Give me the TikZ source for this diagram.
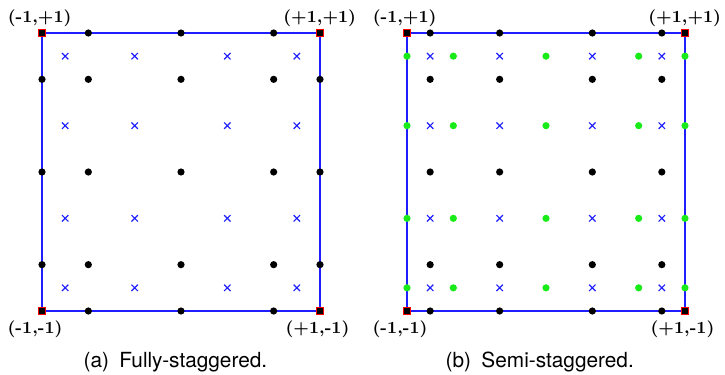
\documentclass[tikz,border=0pt]{standalone}
\usepackage{fontspec}
\newfontfamily\capfont{TeX Gyre Heros}
\usepackage{xcolor}
\definecolor{edgeblue}{RGB}{30,30,255}
\definecolor{fluxgreen}{RGB}{25,235,25}

\tikzset{
  boxline/.style={color=edgeblue, line width=0.8pt},
  soln/.style={fill=black},
  flux/.style={fill=fluxgreen},
  xmark/.style={draw=edgeblue, line width=0.55pt},
  corner/.style={draw=red, fill=black, line width=0.6pt, minimum size=3.4pt, inner sep=0pt},
  vlabel/.style={font=\fontsize{8.5}{10}\selectfont\bfseries, inner sep=0pt},
  caption/.style={font=\capfont\fontsize{10.4}{12}\selectfont, inner sep=0pt, anchor=base}
}
\newcommand{\crossat}[2]{\draw[xmark] (#1,#2) +(-1.6pt,-1.6pt) -- +(1.6pt,1.6pt) +(-1.6pt,1.6pt) -- +(1.6pt,-1.6pt);}

\begin{document}
\begin{tikzpicture}[x=69.5pt, y=69.5pt]
  \useasboundingbox (-1.30216,-1.4604) rectangle (3.91367,1.2374);

  % (a) fully staggered
  \coordinate (a-sw) at (-1,-1);
  \coordinate (a-se) at (1,-1);
  \coordinate (a-ne) at (1,1);
  \coordinate (a-nw) at (-1,1);
  \draw[boxline] (a-sw) -- (a-se) -- (a-ne) -- (a-nw) -- cycle;
  \foreach \x in {-5/6,-1/3,1/3,5/6}
    \foreach \y in {-5/6,-1/3,1/3,5/6}
      \crossat{\x}{\y};
  \foreach \x in {-2/3,0,2/3}
    \foreach \y in {-1,-2/3,0,2/3,1}
      \fill[soln] (\x,\y) circle (1.8pt);
  \foreach \x in {-1,1}
    \foreach \y in {-2/3,0,2/3}
      \fill[soln] (\x,\y) circle (1.8pt);
  \foreach \c in {a-sw,a-se,a-ne,a-nw}
    \node[corner] (\c-pt) at (\c) {};
  \node[vlabel] (a-nw-lab) at (-1.017,1.108) {(-1,+1)};
  \node[vlabel] (a-ne-lab) at (0.998,1.108) {(+1,+1)};
  \node[vlabel] (a-sw-lab) at (-1.05,-1.133) {(-1,-1)};
  \node[vlabel] (a-se-lab) at (0.982,-1.133) {(+1,-1)};
  \node[caption] (a-cap) at (-0.040,-1.409) {(a)\enspace Fully-staggered.};

  % (b) semi staggered
  \begin{scope}[shift={(2.6259,0)}]
    \coordinate (b-sw) at (-1,-1);
    \coordinate (b-se) at (1,-1);
    \coordinate (b-ne) at (1,1);
    \coordinate (b-nw) at (-1,1);
    \draw[boxline] (b-sw) -- (b-se) -- (b-ne) -- (b-nw) -- cycle;
    \foreach \x in {-5/6,-1/3,1/3,5/6}
      \foreach \y in {-5/6,-1/3,1/3,5/6}
        \crossat{\x}{\y};
    \foreach \x in {-5/6,-1/3,1/3,5/6}
      \foreach \y in {-1,-2/3,0,2/3,1}
        \fill[soln] (\x,\y) circle (1.8pt);
    \foreach \x in {-1,-2/3,0,2/3,1}
      \foreach \y in {-5/6,-1/3,1/3,5/6}
        \fill[flux] (\x,\y) circle (1.8pt);
    \foreach \c in {b-sw,b-se,b-ne,b-nw}
      \node[corner] (\c-pt) at (\c) {};
    \node[vlabel] (b-nw-lab) at (-1.017,1.108) {(-1,+1)};
    \node[vlabel] (b-ne-lab) at (0.998,1.108) {(+1,+1)};
    \node[vlabel] (b-sw-lab) at (-1.05,-1.133) {(-1,-1)};
    \node[vlabel] (b-se-lab) at (0.982,-1.133) {(+1,-1)};
    \node[caption] (b-cap) at (-0.045,-1.409) {(b)\enspace Semi-staggered.};
  \end{scope}
\end{tikzpicture}
\end{document}
